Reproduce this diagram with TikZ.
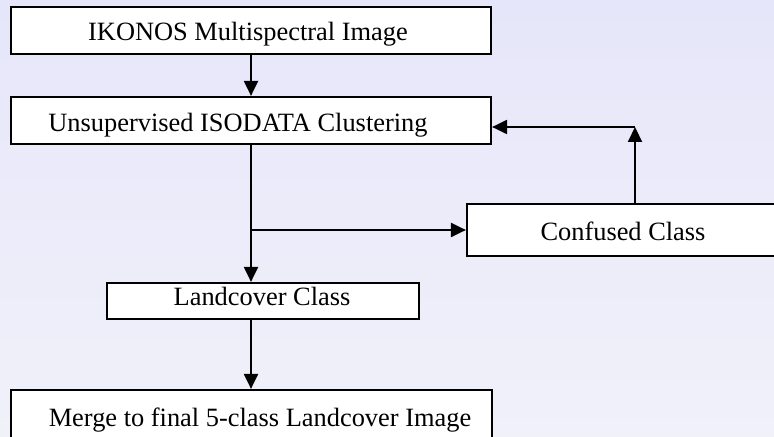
\documentclass[tikz,border=0pt]{standalone}
\usepackage{fontspec}
\setmainfont{Liberation Serif}
\usetikzlibrary{arrows.meta}
\definecolor{bgtop}{RGB}{230,230,250}
\definecolor{bgbot}{RGB}{241,241,250}
\tikzset{
  boxst/.style={draw=black, fill=white, line width=2.2bp, inner sep=0pt, rectangle},
  lbl/.style={inner sep=0pt, anchor=base, font=\fontsize{26.5}{30}\selectfont},
  arr/.style={line width=2.1bp, -{Triangle[length=15bp,width=14bp]}}
}
\begin{document}
\begin{tikzpicture}[x=1bp,y=-1bp]
\useasboundingbox (0,0) rectangle (774,437);
\fill[top color=bgtop, bottom color=bgbot] (0,0) rectangle (774,437);
\clip (0,0) rectangle (774,437);
% boxes
\node[boxst, minimum width=480bp, minimum height=47bp] (b1) at (251,30.5) {};
\node[boxst, minimum width=480bp, minimum height=47bp] (b2) at (251,120.5) {};
\node[boxst, minimum width=312bp, minimum height=52bp] (b3) at (623,230) {};
\node[boxst, minimum width=312bp, minimum height=36bp] (b4) at (263,301) {};
\node[boxst, minimum width=481bp, minimum height=60bp] (b5) at (251.5,420) {};
% labels
\node[lbl] (t1) at (248,41) {IKONOS Multispectral Image};
\node[lbl] (t2) at (238,131.5) {Unsupervised ISODATA Clustering};
\node[lbl] (t3) at (623,241) {Confused Class};
\node[lbl] (t4) at (262,306) {Landcover Class};
\node[lbl] (t5) at (260,426.5) {Merge to final 5-class Landcover Image};
% connectors
\coordinate (j) at (b2.south |- b3.west);
\coordinate (c) at (635,127);
\draw[arr] (b1.south) -- (b2.north);
\draw[arr] (b2.south) -- (b2.south |- b4.north);
\draw[arr] (j) -- (b3.west);
\draw[arr] (b3.north -| c) -- (c);
\draw[arr] (c) -- (b2.east |- c);
\draw[arr] (b2.south |- b4.south) -- (b2.south |- b5.north);
\end{tikzpicture}
\end{document}
